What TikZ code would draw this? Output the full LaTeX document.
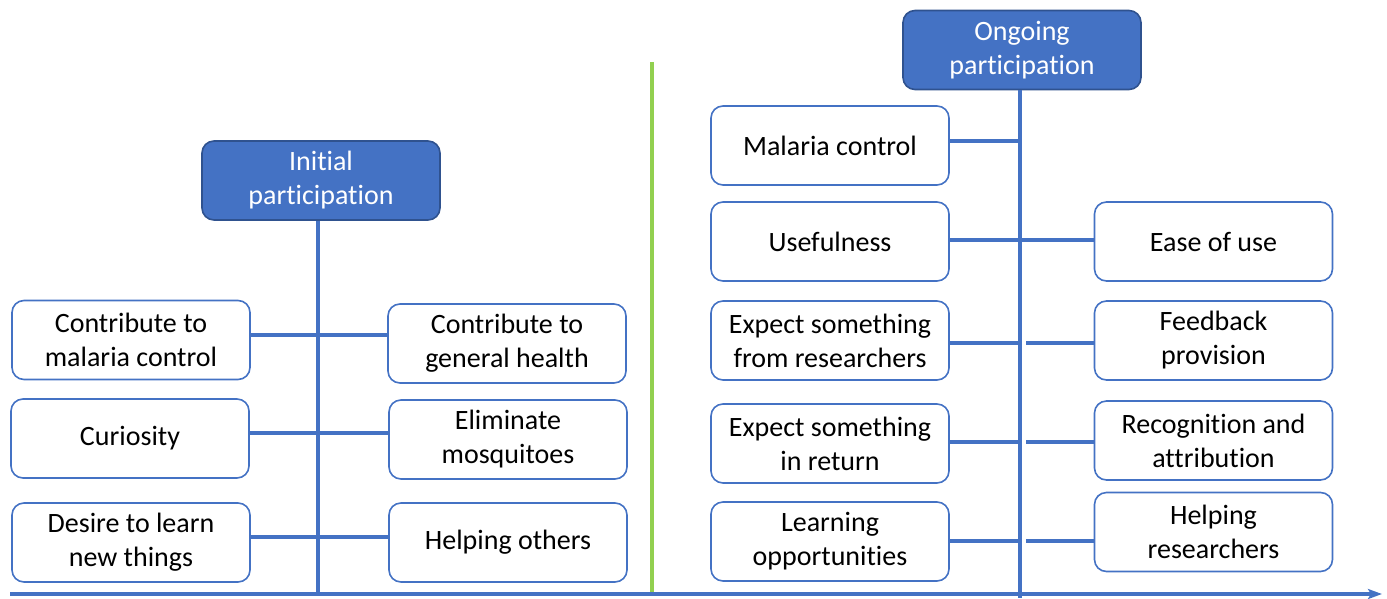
\documentclass[tikz,border=0pt]{standalone}
\usepackage{fontspec}
\setmainfont{Carlito}[Ligatures=NoCommon]
\usetikzlibrary{arrows.meta}
\definecolor{mblue}{HTML}{4472C4}
\definecolor{dblue}{HTML}{2F528F}
\definecolor{mgreen}{HTML}{92D050}
\tikzset{
  item/.style={draw=mblue, line width=1.6pt, rounded corners=12pt, fill=white,
    minimum width=238pt, minimum height=79pt, align=center, inner sep=2pt,
    font=\fontsize{28}{34}\selectfont, text=black},
  head/.style={item, draw=dblue, fill=mblue, text=white},
  conn/.style={draw=mblue, line width=4pt},
}
\begin{document}
\begin{tikzpicture}[x=1pt,y=-1pt]
\useasboundingbox (0,0) rectangle (1387,598);
% headers
\node[head] (ini) at (321,180.5) {Initial\\participation};
\node[head] (ong) at (1022,50) {Ongoing\\participation};
% left side
\node[item] (l1) at (131,340) {Contribute to\\malaria control};
\node[item] (l2) at (130,438.5) {Curiosity};
\node[item] (l3) at (131,542.5) {Desire to learn\\new things};
\node[item] (m1) at (507,343.5) {Contribute to\\general health};
\node[item] (m2) at (508,439.5) {Eliminate\\mosquitoes};
\node[item] (m3) at (508,542.5) {Helping others};
% right side
\node[item] (r1) at (830,145.5) {Malaria control};
\node[item] (r2) at (830,241.5) {Usefulness};
\node[item] (r3) at (830,340.5) {Expect something\\from researchers};
\node[item] (r4) at (830,443.5) {Expect something\\in return};
\node[item] (r5) at (830,541.5) {Learning\\opportunities};
\node[item] (s2) at (1213.5,241.5) {Ease of use};
\node[item] (s3) at (1213.5,340.5) {Feedback\\provision};
\node[item] (s4) at (1213.5,440.5) {Recognition and\\attribution};
\node[item] (s5) at (1213.5,532) {Helping\\researchers};
% axis coordinates
\coordinate (axl) at (10,594);
\coordinate (axr) at (1382,594);
\coordinate (vl) at (318,595);
\coordinate (vr) at (1020,598);
\coordinate (gt) at (652,62);
\coordinate (gb) at (652,595);
% green divider
\draw[draw=mgreen, line width=4pt] (gt) -- (gb);
% vertical stems
\draw[conn] (ini.south -| vl) -- (vl);
\draw[conn] (ong.south -| vr) -- (vr);
% left connectors
\coordinate (c1) at (0,335);
\coordinate (c2) at (0,433);
\coordinate (c3) at (0,537);
\draw[conn] (l1.east |- c1) -- (m1.west |- c1);
\draw[conn] (l2.east |- c2) -- (m2.west |- c2);
\draw[conn] (l3.east |- c3) -- (m3.west |- c3);
% right connectors
\coordinate (d1) at (0,141);
\coordinate (d2) at (0,240);
\coordinate (d3) at (0,343);
\coordinate (d4) at (0,442);
\coordinate (d5) at (0,541);
\draw[conn] (r1.east |- d1) -- (vr |- d1);
\draw[conn] (r2.east |- d2) -- (s2.west |- d2);
\draw[conn] (r3.east |- d3) -- (vr |- d3);
\draw[conn] ([xshift=6pt]vr |- d3) -- (s3.west |- d3);
\draw[conn] (r4.east |- d4) -- (vr |- d4);
\draw[conn] ([xshift=6pt]vr |- d4) -- (s4.west |- d4);
\draw[conn] (r5.east |- d5) -- (vr |- d5);
\draw[conn] ([xshift=6pt]vr |- d5) -- (s5.west |- d5);
% time axis
\draw[conn, -{Stealth[length=14pt,width=10pt,inset=3pt]}] (axl) -- (axr);
\end{tikzpicture}
\end{document}
